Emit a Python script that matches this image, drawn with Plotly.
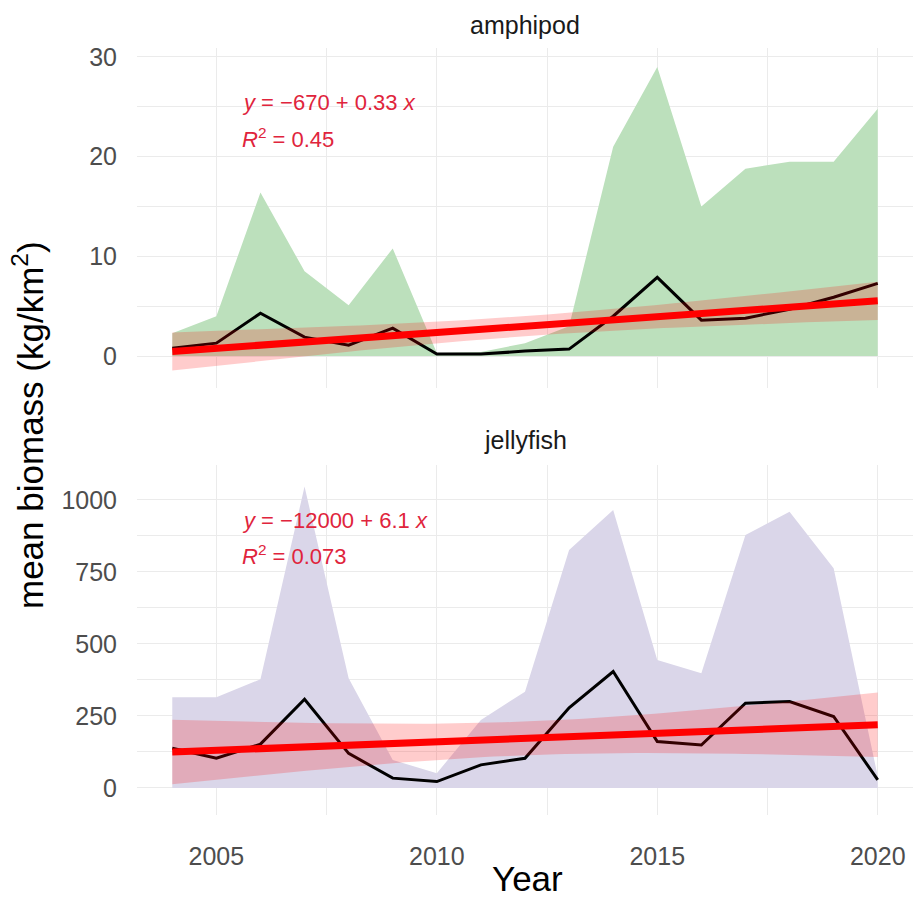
import numpy as np
import plotly.graph_objects as go

years = list(range(2004, 2021))

amph_mean = [0.8, 1.3, 4.3, 1.9, 1.1, 2.8, 0.2, 0.2, 0.5, 0.7, 4.0, 7.9, 3.6, 3.8, 4.7, 5.9, 7.3]
amph_upper = [2.3, 4.0, 16.4, 8.5, 5.1, 10.8, 0.3, 0.4, 1.3, 3.0, 21.0, 29.0, 15.0, 18.8, 19.5, 19.5, 24.8]
amph_lower = [0.0] * 17

jelly_mean = [138, 103, 152, 308, 120, 34, 22, 80, 103, 278, 404, 161, 149, 294, 300, 248, 28]
jelly_upper = [315, 315, 377, 1046, 381, 97, 51, 236, 334, 826, 965, 444, 398, 878, 959, 763, 40]
jelly_lower = [0.0] * 17

amph_eq = "<i>y</i> = −670 + 0.33 <i>x</i>"
amph_r2 = "<i>R</i><sup>2</sup> = 0.45"
jelly_eq = "<i>y</i> = −12000 + 6.1 <i>x</i>"
jelly_r2 = "<i>R</i><sup>2</sup> = 0.073"

T975_DF15 = 2.131


def lm_band(x, y, n=80):
    x = np.asarray(x, float)
    y = np.asarray(y, float)
    b, a = np.polyfit(x, y, 1)
    res = y - (a + b * x)
    s = np.sqrt(np.sum(res ** 2) / (len(x) - 2))
    xs = np.linspace(x.min(), x.max(), n)
    fit = a + b * xs
    se = s * np.sqrt(1 / len(x) + (xs - x.mean()) ** 2 / np.sum((x - x.mean()) ** 2))
    return xs, fit, fit - T975_DF15 * se, fit + T975_DF15 * se


fig = go.Figure()

L, R, T, B = 137, 0, 48, 83
W, H = 913, 898
ph = H - T - B
pw = W - L - R
top_dom = [(815 - 388) / ph, 1.0]
bot_dom = [0.0, (815 - 465) / ph]


def add_panel(mean, lower, upper, fillcol, xa, ya):
    fig.add_trace(go.Scatter(x=years, y=lower, mode="lines", line=dict(width=0),
                             hoverinfo="skip", showlegend=False, xaxis=xa, yaxis=ya))
    fig.add_trace(go.Scatter(x=years, y=upper, mode="lines", line=dict(width=0),
                             fill="tonexty", fillcolor=fillcol, hoverinfo="skip",
                             showlegend=False, xaxis=xa, yaxis=ya))
    fig.add_trace(go.Scatter(x=years, y=mean, mode="lines", line=dict(color="black", width=3),
                             showlegend=False, xaxis=xa, yaxis=ya))
    xs, fit, lo, hi = lm_band(years, mean)
    fig.add_trace(go.Scatter(x=xs, y=lo, mode="lines", line=dict(width=0),
                             hoverinfo="skip", showlegend=False, xaxis=xa, yaxis=ya))
    fig.add_trace(go.Scatter(x=xs, y=hi, mode="lines", line=dict(width=0),
                             fill="tonexty", fillcolor="rgba(255,0,0,0.2)", hoverinfo="skip",
                             showlegend=False, xaxis=xa, yaxis=ya))
    fig.add_trace(go.Scatter(x=xs, y=fit, mode="lines", line=dict(color="#ff0000", width=7),
                             showlegend=False, xaxis=xa, yaxis=ya))


add_panel(amph_mean, amph_lower, amph_upper, "rgb(188,224,188)", "x", "y")
add_panel(jelly_mean, jelly_lower, jelly_upper, "rgb(218,214,233)", "x2", "y2")

grid = "#ebebeb"
tickfont = dict(family="Liberation Sans, Arial, sans-serif", size=25, color="#4d4d4d")
xcommon = dict(range=[2003.2, 2020.8], showgrid=True, gridcolor=grid, gridwidth=1.2,
               zeroline=False, showline=False, tickvals=[2005, 2010, 2015, 2020],
               minor=dict(tickvals=[2007.5, 2012.5, 2017.5], showgrid=True, gridcolor=grid, gridwidth=0.8),
               tickfont=tickfont, automargin=False)

fig.update_layout(
    width=W, height=H,
    margin=dict(l=L, r=R, t=T, b=B, autoexpand=False),
    paper_bgcolor="white", plot_bgcolor="white",
    showlegend=False,
    xaxis=dict(**xcommon, anchor="y", showticklabels=False, matches="x2"),
    xaxis2=dict(**xcommon, anchor="y2", ticks="outside", ticklen=19, tickcolor="rgba(0,0,0,0)"),
    yaxis=dict(domain=top_dom, range=[-3.2, 30.9], tickvals=[0, 10, 20, 30],
               minor=dict(tickvals=[5, 15, 25], showgrid=True, gridcolor=grid, gridwidth=0.8),
               showgrid=True, gridcolor=grid, gridwidth=1.2, zeroline=False, automargin=False,
               ticks="outside", ticklen=14, tickcolor="rgba(0,0,0,0)", tickfont=tickfont),
    yaxis2=dict(domain=bot_dom, range=[-94, 1121], tickvals=[0, 250, 500, 750, 1000],
                minor=dict(tickvals=[125, 375, 625, 875, 1125], showgrid=True, gridcolor=grid, gridwidth=0.8),
                showgrid=True, gridcolor=grid, gridwidth=1.2, zeroline=False, automargin=False,
                ticks="outside", ticklen=14, tickcolor="rgba(0,0,0,0)", tickfont=tickfont),
)


def py(p):
    return (815 - p) / ph


def px(p):
    return (p - L) / pw


ann_font = dict(family="Liberation Sans, Arial, sans-serif", size=22, color="#e0243c")
strip_font = dict(family="Liberation Sans, Arial, sans-serif", size=25, color="#1a1a1a")
title_font = dict(family="Liberation Sans, Arial, sans-serif", size=35, color="black")

anns = [
    dict(text=amph_eq, x=px(240), y=py(103), font=ann_font, xanchor="left", yanchor="middle"),
    dict(text=amph_r2, x=px(240), y=py(138), font=ann_font, xanchor="left", yanchor="middle"),
    dict(text=jelly_eq, x=px(240), y=py(520), font=ann_font, xanchor="left", yanchor="middle"),
    dict(text=jelly_r2, x=px(240), y=py(555), font=ann_font, xanchor="left", yanchor="middle"),
    dict(text="amphipod", x=0.5, y=py(25), font=strip_font, xanchor="center", yanchor="middle"),
    dict(text="jellyfish", x=0.5, y=py(440), font=strip_font, xanchor="center", yanchor="middle"),
    dict(text="Year", x=px(527), y=py(879), font=title_font, xanchor="center", yanchor="middle"),
    dict(text="mean biomass (kg/km<sup>2</sup>)", x=px(28), y=py(425), font=title_font,
         xanchor="center", yanchor="middle", textangle=-90),
]
for a in anns:
    a.update(xref="paper", yref="paper", showarrow=False)
fig.update_layout(annotations=anns)

fig.write_html("out.html", config={"displayModeBar": False},
               post_script="document.body.style.margin='0px';document.body.style.padding='0px';")
